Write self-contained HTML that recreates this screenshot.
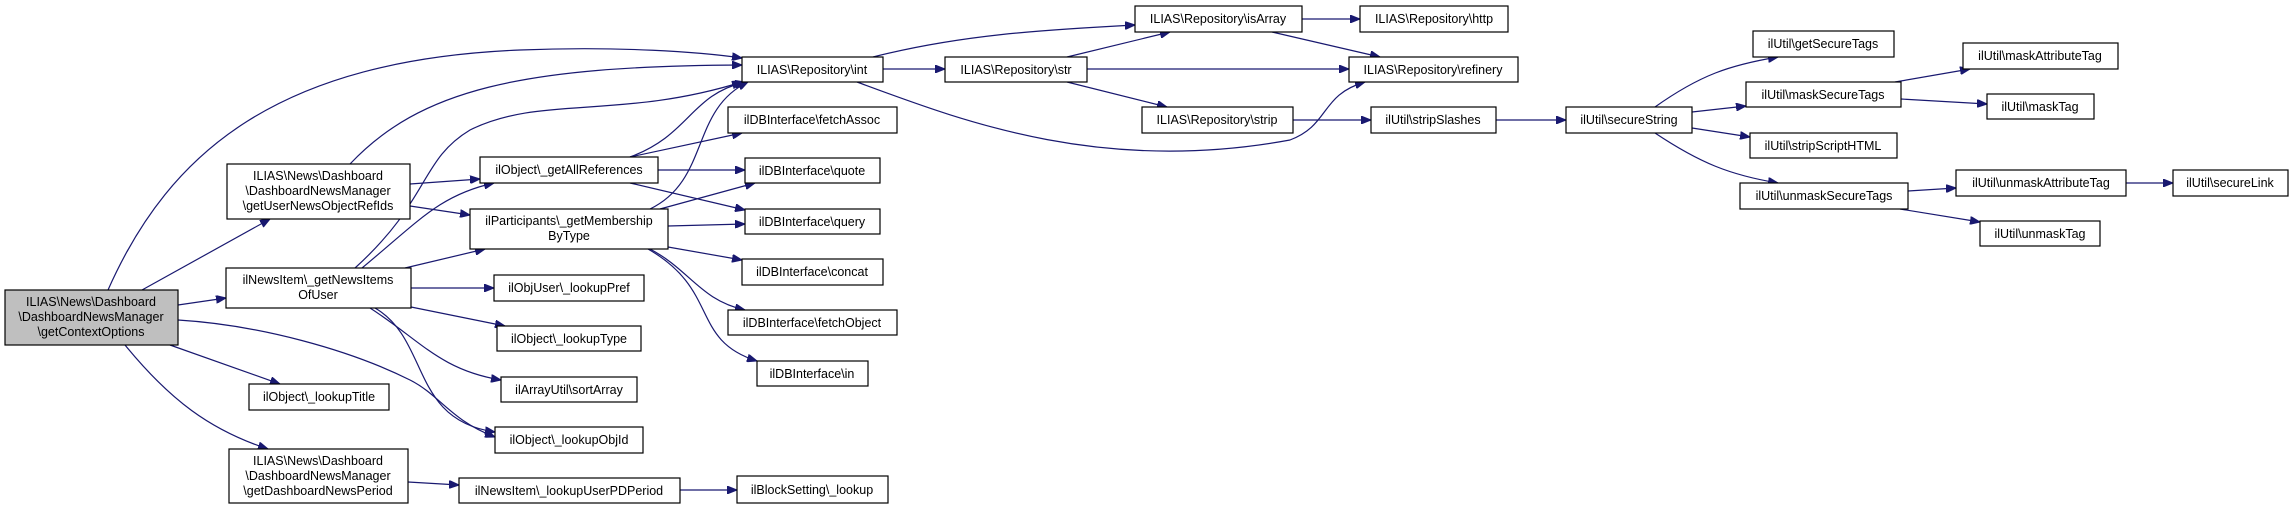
<!DOCTYPE html>
<html><head><meta charset="utf-8"><style>
html,body{margin:0;padding:0;background:#fff;}
svg{display:block;}
text{font-family:"Liberation Sans",Arial,sans-serif;font-size:12.5px;fill:#000;text-anchor:middle;}
rect{fill:#fff;stroke:#000;stroke-width:1.2;}
path.e{fill:none;stroke:#191970;stroke-width:1.2;}
</style></head><body>
<svg width="2293" height="509" viewBox="0 0 2293 509" xmlns="http://www.w3.org/2000/svg">
<defs>
<marker id="a" markerWidth="11" markerHeight="8" refX="10" refY="4" orient="auto" markerUnits="userSpaceOnUse">
<path d="M0,0 L10,4 L0,8 Z" fill="#191970" stroke="#191970"/>
</marker>
</defs>
<g marker-end="url(#a)">
<!-- root edges -->
<path class="e" d="M108,290 C170,150 280,60 520,50 C620,46 700,52 742,58"/>
<path class="e" d="M142,290 L270,219"/>
<path class="e" d="M178,305 L226,298"/>
<path class="e" d="M178,320 C260,325 350,350 410,380 C440,395 450,420 495,437"/>
<path class="e" d="M170,345 L280,384"/>
<path class="e" d="M125,345 C170,400 210,430 268,449"/>
<!-- getUserNewsObjectRefIds -->
<path class="e" d="M350,164 C420,90 520,66 742,65"/>
<path class="e" d="M410,184 L480,179"/>
<path class="e" d="M410,206 L470,215"/>
<!-- getNewsItemsOfUser -->
<path class="e" d="M355,268 C430,200 420,160 470,130 C540,95 620,120 742,82"/>
<path class="e" d="M362,268 C420,220 440,195 494,183"/>
<path class="e" d="M405,268 L485,249"/>
<path class="e" d="M411,288 L494,288"/>
<path class="e" d="M411,307 L505,326"/>
<path class="e" d="M370,308 C420,340 440,370 501,380"/>
<path class="e" d="M375,308 C430,340 410,420 495,432"/>
<!-- getAllReferences -->
<path class="e" d="M630,157 C690,135 690,95 745,82"/>
<path class="e" d="M630,157 L742,133"/>
<path class="e" d="M658,170 L745,170"/>
<path class="e" d="M630,183 L745,210"/>
<!-- getMembership -->
<path class="e" d="M650,209 C710,180 690,110 748,82"/>
<path class="e" d="M660,209 L755,183"/>
<path class="e" d="M668,226 L745,224"/>
<path class="e" d="M668,247 L742,260"/>
<path class="e" d="M650,249 C690,270 700,300 745,310"/>
<path class="e" d="M648,249 C720,290 690,340 757,361"/>
<!-- int -->
<path class="e" d="M883,69 L945,69"/>
<path class="e" d="M873,57 C960,35 1040,30 1135,25"/>
<path class="e" d="M857,82 C960,120 1100,175 1290,140 C1330,125 1320,95 1365,82"/>
<!-- str -->
<path class="e" d="M1067,57 L1170,32"/>
<path class="e" d="M1087,69 L1349,69"/>
<path class="e" d="M1067,82 L1167,107"/>
<!-- isArray -->
<path class="e" d="M1302,19 L1360,19"/>
<path class="e" d="M1272,32 L1380,57"/>
<!-- strip chain -->
<path class="e" d="M1293,120 L1371,120"/>
<path class="e" d="M1496,120 L1566,120"/>
<!-- secureString -->
<path class="e" d="M1655,107 C1700,75 1730,65 1778,57"/>
<path class="e" d="M1692,112 L1746,106"/>
<path class="e" d="M1692,128 L1750,137"/>
<path class="e" d="M1655,133 C1700,163 1730,175 1778,183"/>
<!-- mask/unmask -->
<path class="e" d="M1895,82 L1970,69"/>
<path class="e" d="M1901,99 L1987,104"/>
<path class="e" d="M1908,191 L1956,188"/>
<path class="e" d="M1900,209 L1980,222"/>
<path class="e" d="M2126,183 L2173,183"/>
<!-- bottom chain -->
<path class="e" d="M408,482 L459,485"/>
<path class="e" d="M680,490 L737,490"/>
</g>

<!-- nodes -->
<rect x="5" y="290" width="173" height="55" style="fill:#bfbfbf"/>
<text x="91" y="306">ILIAS\News\Dashboard</text><text x="91" y="321">\DashboardNewsManager</text><text x="91" y="336">\getContextOptions</text>

<rect x="227" y="164" width="183" height="55"/>
<text x="318" y="180">ILIAS\News\Dashboard</text><text x="318" y="195">\DashboardNewsManager</text><text x="318" y="210">\getUserNewsObjectRefIds</text>

<rect x="226" y="268" width="185" height="40"/>
<text x="318" y="284">ilNewsItem\_getNewsItems</text><text x="318" y="299">OfUser</text>

<rect x="249" y="384" width="140" height="26"/><text x="319" y="401">ilObject\_lookupTitle</text>

<rect x="229" y="449" width="179" height="54"/>
<text x="318" y="465">ILIAS\News\Dashboard</text><text x="318" y="480">\DashboardNewsManager</text><text x="318" y="495">\getDashboardNewsPeriod</text>

<rect x="480" y="157" width="178" height="26"/><text x="569" y="174">ilObject\_getAllReferences</text>
<rect x="470" y="209" width="198" height="40"/><text x="569" y="225">ilParticipants\_getMembership</text><text x="569" y="240">ByType</text>
<rect x="494" y="275" width="150" height="26"/><text x="569" y="292">ilObjUser\_lookupPref</text>
<rect x="497" y="326" width="144" height="25"/><text x="569" y="343">ilObject\_lookupType</text>
<rect x="501" y="377" width="136" height="25"/><text x="569" y="394">ilArrayUtil\sortArray</text>
<rect x="495" y="427" width="148" height="26"/><text x="569" y="444">ilObject\_lookupObjId</text>
<rect x="459" y="478" width="221" height="25"/><text x="569" y="495">ilNewsItem\_lookupUserPDPeriod</text>
<rect x="737" y="476" width="151" height="27"/><text x="812" y="494">ilBlockSetting\_lookup</text>

<rect x="742" y="57" width="141" height="25"/><text x="812" y="74">ILIAS\Repository\int</text>
<rect x="728" y="107" width="169" height="26"/><text x="812" y="124">ilDBInterface\fetchAssoc</text>
<rect x="745" y="158" width="135" height="25"/><text x="812" y="175">ilDBInterface\quote</text>
<rect x="745" y="209" width="135" height="25"/><text x="812" y="226">ilDBInterface\query</text>
<rect x="742" y="259" width="141" height="26"/><text x="812" y="276">ilDBInterface\concat</text>
<rect x="728" y="310" width="169" height="25"/><text x="812" y="327">ilDBInterface\fetchObject</text>
<rect x="757" y="361" width="111" height="25"/><text x="812" y="378">ilDBInterface\in</text>

<rect x="945" y="57" width="142" height="25"/><text x="1016" y="74">ILIAS\Repository\str</text>
<rect x="1135" y="6" width="167" height="26"/><text x="1218" y="23">ILIAS\Repository\isArray</text>
<rect x="1142" y="107" width="151" height="26"/><text x="1217" y="124">ILIAS\Repository\strip</text>
<rect x="1360" y="6" width="148" height="26"/><text x="1434" y="23">ILIAS\Repository\http</text>
<rect x="1349" y="57" width="169" height="25"/><text x="1433" y="74">ILIAS\Repository\refinery</text>
<rect x="1371" y="107" width="125" height="26"/><text x="1433" y="124">ilUtil\stripSlashes</text>

<rect x="1566" y="107" width="126" height="26"/><text x="1629" y="124">ilUtil\secureString</text>
<rect x="1753" y="31" width="141" height="26"/><text x="1823" y="48">ilUtil\getSecureTags</text>
<rect x="1746" y="82" width="155" height="25"/><text x="1823" y="99">ilUtil\maskSecureTags</text>
<rect x="1750" y="133" width="147" height="25"/><text x="1823" y="150">ilUtil\stripScriptHTML</text>
<rect x="1740" y="183" width="168" height="26"/><text x="1824" y="200">ilUtil\unmaskSecureTags</text>
<rect x="1963" y="43" width="155" height="26"/><text x="2040" y="60">ilUtil\maskAttributeTag</text>
<rect x="1987" y="94" width="107" height="25"/><text x="2040" y="111">ilUtil\maskTag</text>
<rect x="1956" y="170" width="170" height="26"/><text x="2041" y="187">ilUtil\unmaskAttributeTag</text>
<rect x="1980" y="221" width="120" height="25"/><text x="2040" y="238">ilUtil\unmaskTag</text>
<rect x="2173" y="170" width="115" height="26"/><text x="2230" y="187">ilUtil\secureLink</text>
</svg>
</body></html>
